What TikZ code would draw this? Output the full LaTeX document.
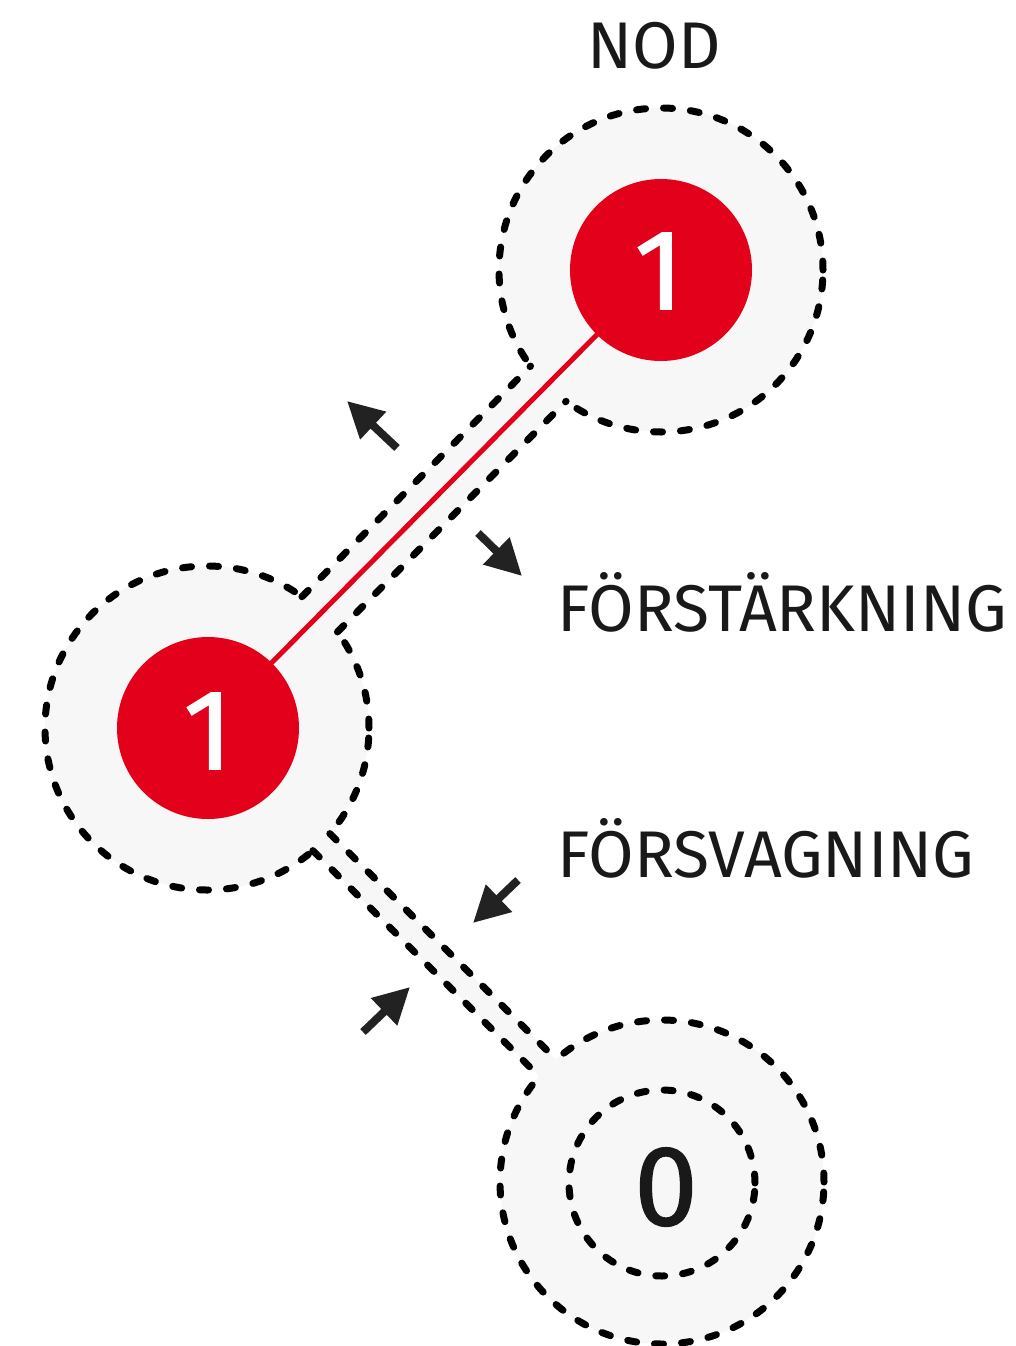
\documentclass[tikz,border=0pt]{standalone}
\usepackage{fontspec}
\setmainfont{Fira Sans}
\newfontfamily\labelfont{Fira Sans}
\newfontfamily\digitfont[FakeBold=1.2]{Fira Sans}
\usetikzlibrary{calc,arrows.meta}
\definecolor{nodered}{HTML}{E2001A}
\definecolor{halogray}{HTML}{F7F7F7}
\definecolor{arrowdark}{HTML}{222222}
\tikzset{
  dashline/.style={draw=black,line width=7pt,line cap=round,dash pattern=on 9pt off 18pt},
  halo/.style={circle,minimum size=324pt,inner sep=0pt,fill=halogray,dashline},
  innerhalo/.style={circle,minimum size=186pt,inner sep=0pt,dashline},
  rednode/.style={circle,minimum size=182pt,inner sep=0pt,fill=nodered},
  digit/.style={inner sep=0pt,font=\digitfont\fontsize{114}{114}\selectfont},
  caption/.style={inner sep=0pt,anchor=base west,font=\labelfont\fontsize{66}{66}\selectfont,text=black!90},
  forcearrow/.style={draw=arrowdark,line width=8pt,-{Triangle[length=36pt,width=36pt]}},
}
\begin{document}
\begin{tikzpicture}[x=1pt,y=-1pt]
\useasboundingbox (0,0) rectangle (1015,1346);
% halos
\node[halo] (hT) at (661,270) {};
\node[halo] (hM) at (207,728) {};
\node[halo] (hB) at (662,1182) {};
% bands (fill over junctions)
\fill[halogray] ($(hM.center)!25pt!90:(hT.center)$) -- ($(hT.center)!25pt!-90:(hM.center)$) -- ($(hT.center)!25pt!90:(hM.center)$) -- ($(hM.center)!25pt!-90:(hT.center)$) -- cycle;
\fill[halogray] ($(hM.center)!12pt!90:(hB.center)$) -- ($(hB.center)!12pt!-90:(hM.center)$) -- ($(hB.center)!12pt!90:(hM.center)$) -- ($(hM.center)!12pt!-90:(hB.center)$) -- cycle;
% band edges
\coordinate (u1) at ($(hM.center)!160.06pt!(hT.center)$);
\coordinate (u2) at ($(hT.center)!160.06pt!(hM.center)$);
\draw[dashline] ($(u1)!25pt!90:(hT.center)$) -- ($(u2)!25pt!-90:(hM.center)$);
\draw[dashline] ($(u1)!25pt!-90:(hT.center)$) -- ($(u2)!25pt!90:(hM.center)$);
\coordinate (l1) at ($(hM.center)!161.55pt!(hB.center)$);
\coordinate (l2) at ($(hB.center)!161.55pt!(hM.center)$);
\draw[dashline] ($(l1)!12pt!90:(hB.center)$) -- ($(l2)!12pt!-90:(hM.center)$);
\draw[dashline] ($(l1)!12pt!-90:(hB.center)$) -- ($(l2)!12pt!90:(hM.center)$);
% inner halo of 0
\node[innerhalo] (iB) at (662,1183) {};
% red link
\draw[nodered,line width=5pt] (hM.center) -- (hT.center);
% red nodes
\node[rednode] (nT) at (661,270) {};
\node[rednode] (nM) at (208,728) {};
\node[digit,text=white] (oneT) at (659,271) {1};
\node[digit,text=white] (oneM) at (208,731) {1};
\node[digit,text=black!90] (zero) at (666,1187) {0};
% arrows
\coordinate (a1s) at (397,448); \coordinate (a1e) at (347,401);
\coordinate (a2s) at (478,533); \coordinate (a2e) at (522,576);
\coordinate (a3s) at (518,880); \coordinate (a3e) at (473,923);
\coordinate (a4s) at (363,1032); \coordinate (a4e) at (410,987);
\draw[forcearrow] (a1s) -- (a1e);
\draw[forcearrow] (a2s) -- (a2e);
\draw[forcearrow] (a3s) -- (a3e);
\draw[forcearrow] (a4s) -- (a4e);
% captions
\node[caption,anchor=base] (nod) at (654,68) {NOD};
\node[caption] (forst) at (557,631) {FÖRSTÄRKNING};
\node[caption] (forsv) at (557,877) {FÖRSVAGNING};
\end{tikzpicture}
\end{document}
